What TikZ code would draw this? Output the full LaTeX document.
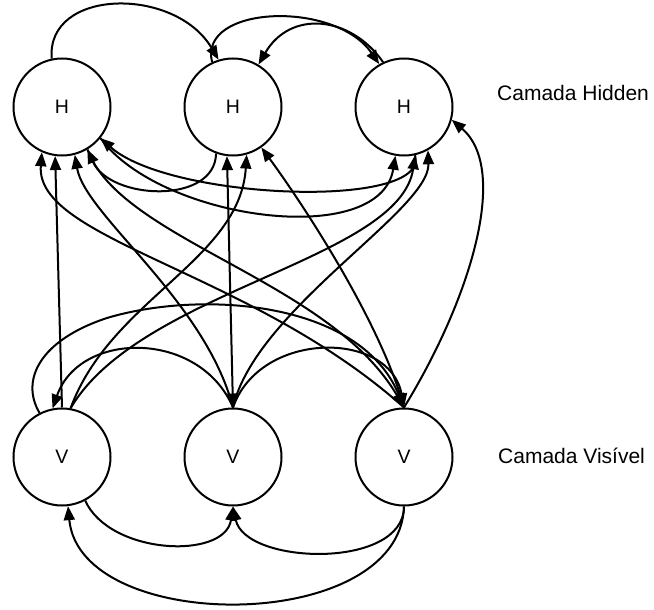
\documentclass[tikz,border=0pt]{standalone}
\usepackage{fontspec}
\setmainfont{Liberation Sans}
\usetikzlibrary{arrows.meta}
\begin{document}
\begin{tikzpicture}[x=1pt,y=-1pt,
  unit/.style={circle,draw,line width=2pt,minimum size=97pt,inner sep=0pt,
    font=\fontsize{19.5}{19.5}\selectfont},
  layer/.style={anchor=base west,inner sep=0pt,font=\fontsize{21}{21}\selectfont},
  link/.style={line width=2pt,-{Triangle[length=14pt,width=11pt]}},
  twoway/.style={line width=2pt,{Triangle[length=14pt,width=11pt]}-{Triangle[length=14pt,width=11pt]}}]
\useasboundingbox (0,0) rectangle (654,610);

% hidden layer
\node[unit] (H1) at (62,107) {H};
\node[unit] (H2) at (233,107) {H};
\node[unit] (H3) at (404,107) {H};
% visible layer
\node[unit] (V1) at (62,457) {V};
\node[unit] (V2) at (233,457) {V};
\node[unit] (V3) at (404,457) {V};

\node[layer] (lh) at (497,101) {Camada Hidden};
\node[layer] (lv) at (498,463) {Camada Visível};

% links inside the hidden layer
\draw[link] (H1.102) .. controls (46,-12) and (175,-14) .. (H2.107);
\draw[link] (H2.115) .. controls (198,5) and (335,0) .. (H3.120);
\draw[link] (H3.115) .. controls (350,15) and (290,10) .. (H2.59);
\draw[link] (H2.250) .. controls (215,205) and (110,200) .. (H1.301);
\draw[link] (H3.283) .. controls (430,210) and (170,200) .. (H1.321);
\draw[link] (H1.321) .. controls (160,220) and (380,250) .. (H3.260);

% links inside the visible layer
\draw[link] (V1.298) .. controls (110,555) and (225,560) .. (V2.270);
\draw[link] (V3.270) .. controls (404,570) and (245,565) .. (V2.270);
\draw[link] (V3.270) .. controls (400,635) and (80,635) .. (V1.277);
\draw[link] (V2.90) .. controls (200,330) and (80,330) .. (V1.101);
\draw[link] (V2.90) .. controls (260,330) and (390,330) .. (V3.90);
\draw[link] (V1.117) .. controls (20,380) and (40,340) .. (107,318)
  .. controls (200,290) and (360,300) .. (V3.90);

% links between the layers
\draw[link] (V1.90) -- (H1.262);
\draw[link] (V3.90) .. controls (250,270) and (35,240) .. (H1.246);
\draw[link] (V2.90) .. controls (205,300) and (85,215) .. (H1.285);
\draw[link] (H1.301) .. controls (120,240) and (330,280) .. (V3.90);
\draw[link] (V1.80) .. controls (110,300) and (240,260) .. (H2.286);
\draw[link] (V1.80) .. controls (140,290) and (400,260) .. (H3.283);
\draw[twoway] (V2.90) -- (H2.263);
\draw[link] (V2.90) .. controls (255,310) and (430,210) .. (H3.299);
\draw[link] (V3.90) .. controls (380,320) and (300,200) .. (H2.305);
\draw[link] (V3.90) .. controls (470,300) and (510,170) .. (H3.345);
\end{tikzpicture}
\end{document}
